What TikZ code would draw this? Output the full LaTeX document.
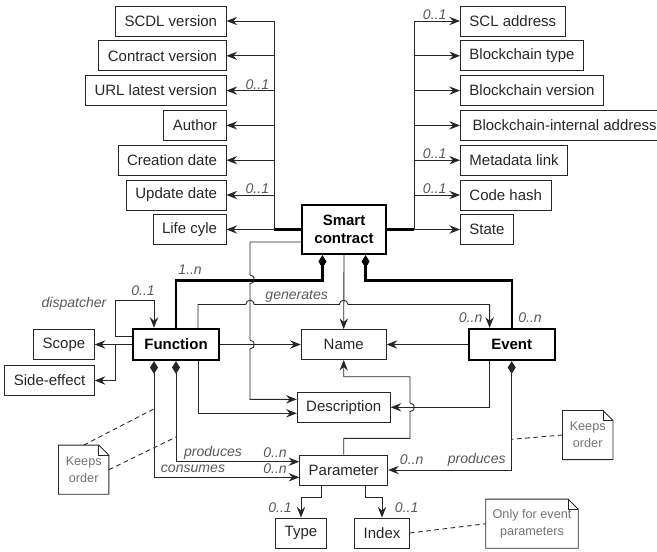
\documentclass[tikz,border=0pt]{standalone}
\usepackage{fontspec}
\setmainfont{Liberation Sans}
\usetikzlibrary{arrows.meta,positioning,calc}

\begin{document}
\begin{tikzpicture}[
    x=0.03cm, y=-0.03cm,
    attr/.style={rectangle, draw=black!85, line width=0.75pt, text=black!85, font=\fontsize{12.8}{15.4}\selectfont, minimum height=0.9cm, inner xsep=0.27cm},
    ent/.style={attr, minimum width=2.55cm},
    main/.style={ent, draw=black, line width=2pt, text=black, font=\fontsize{12.8}{15.4}\selectfont\bfseries, minimum height=0.93cm},
    memo/.style={rectangle, inner sep=0pt, align=center, text=black!55, font=\fontsize{10.8}{14.5}\selectfont, minimum width=1.5cm, minimum height=1.46cm},
    lbl/.style={font=\fontsize{12}{14}\selectfont\itshape, text=black!65, inner sep=1pt},
    ln/.style={draw=black!85, line width=0.75pt},
    arr/.style={ln, -{Stealth[length=0.32cm,width=0.25cm,inset=0.11cm]}},
    comp/.style={ln, {Diamond[length=0.38cm,width=0.24cm]}-{Stealth[length=0.32cm,width=0.25cm,inset=0.11cm]}},
    thk/.style={draw=black, line width=2pt},
    thkcomp/.style={thk, {Diamond[length=0.38cm,width=0.24cm,line width=0.5pt]}-},
    dsh/.style={ln, dash pattern=on 4pt off 3pt}
]
    \useasboundingbox (0,0) rectangle (657,551);

    % smart contract and its attributes
    \node [main, align=center, minimum width=2.52cm, minimum height=1.47cm] (sc) at (344,229.5) {Smart\\contract};

    \node [attr, anchor=east] (scdl)   at (226.5,21)    {SCDL version};
    \node [attr, anchor=east] (cver)   at (226.5,55.8)  {Contract version};
    \node [attr, anchor=east] (url)    at (226.5,90.6)  {URL latest version};
    \node [attr, anchor=east] (author) at (226.5,125.4) {Author};
    \node [attr, anchor=east] (cdate)  at (226.5,160.2) {Creation date};
    \node [attr, anchor=east] (udate)  at (226.5,195)   {Update date};
    \node [attr, anchor=east] (life)   at (226.5,229.5) {Life cyle};

    \node [attr, anchor=west] (scl)   at (460,21)    {SCL address};
    \node [attr, anchor=west] (btype) at (460,55.8)  {Blockchain type};
    \node [attr, anchor=west] (bver)  at (460,90.6)  {Blockchain version};
    \node [attr, anchor=west, minimum width=6.25cm] (baddr) at (460,125.4) {Blockchain-internal address};
    \node [attr, anchor=west] (meta)  at (460,160.2) {Metadata link};
    \node [attr, anchor=west] (hash)  at (460,195)   {Code hash};
    \node [attr, anchor=west] (state) at (460,229.5) {State};

    % function, event and shared parts
    \node [main, minimum width=2.57cm] (fn) at (176,344.5) {Function};
    \node [main, minimum width=2.58cm] (ev) at (511.7,344.5) {Event};
    \node [ent] (name)  at (343.7,344.5) {Name};
    \node [ent] (desc)  at (343.7,407.3) {Description};
    \node [ent] (param) at (343.7,470)   {Parameter};
    \node [attr] (type)  at (301,533) {Type};
    \node [attr] (index) at (382,533) {Index};
    \node [attr, anchor=east] (scope) at (94.7,344.5) {Scope};
    \node [attr, anchor=east] (side)  at (94.7,380.5) {Side-effect};

    % notes
    \node [memo] (kl) at (83.7,469.7) {Keeps\\order};
    \node [memo] (kr) at (587.7,435)  {Keeps\\order};
    \node [memo, minimum width=2.76cm] (oe) at (532,523.7) {Only for event\\parameters};
    \foreach \n in {kl,kr,oe} {
        \draw [ln] (\n.south west) -- (\n.north west) -- ($(\n.north east)+(-10,0)$) -- ($(\n.north east)+(0,10)$) -- (\n.south east) -- cycle;
        \draw [ln] ($(\n.north east)+(-10,0)$) |- ($(\n.north east)+(0,10)$);
    }

    % attribute links
    \coordinate (lj) at (274,229.5);
    \coordinate (rj) at (414,229.5);
    \draw [thk] (sc.west) -- (lj);
    \draw [thk] (sc.east) -- (rj);
    \draw [ln] (lj) -- (lj |- scdl.east);
    \draw [ln] (rj) -- (rj |- scl.west);
    \foreach \n in {scdl,cver,url,author,cdate,udate,life}
        \draw [arr] (lj |- \n.east) -- (\n.east);
    \foreach \n in {scl,btype,bver,baddr,meta,hash,state}
        \draw [arr] (rj |- \n.west) -- (\n.west);
    \foreach \n in {url,udate}
        \node [lbl, above] at ($(lj |- \n.east)!0.35!(\n.east)$) {0..1};
    \foreach \n in {scl,meta,hash}
        \node [lbl, above] at ($(rj |- \n.west)!0.45!(\n.west)$) {0..1};

    % compositions
    \draw [thkcomp] ($(sc.south west)!0.25!(sc.south east)$) -- ++(0,25.3) -| (fn.north);
    \draw [thkcomp] ($(sc.south west)!0.75!(sc.south east)$) -- ++(0,25.3) -| (ev.north);
    \node [lbl] at (190,270) {1..n};
    \node [lbl] at (530,318) {0..n};

    % smart contract to name and description
    \draw [arr] (sc.south) -- (name.north);
    \draw [arr] (sc.west |- 0,242) -- (250,242) -- (250,275)
        .. controls (255.7,275) and (255.7,283.6) .. (250,283.6) -- (250,340.2)
        .. controls (255.7,340.2) and (255.7,348.8) .. (250,348.8) -- (250,399.3) -- (desc.west |- 0,399.3);

    % generates
    \draw [arr] ($(fn.north west)!0.75!(fn.north east)$) |- (245.7,304.5)
        .. controls (245.7,298.8) and (254.3,298.8) .. (254.3,304.5) -- (339.4,304.5)
        .. controls (339.4,298.8) and (348,298.8) .. (348,304.5) -| ($(ev.north west)!0.25!(ev.north east)$);
    \node [lbl] at (296.7,296.5) {generates};
    \node [lbl] at (470.7,318) {0..n};

    % dispatcher
    \draw [arr] (fn.west |- 0,336.7) -- (115,336.7) -- (115,300.7) -| ($(fn.north west)!0.25!(fn.north east)$);
    \node [lbl] at (74,304) {dispatcher};
    \node [lbl] at (143,291) {0..1};

    % function parts
    \coordinate (fj) at (115,344.5);
    \draw [arr] (fn.west) -- (scope.east);
    \draw [arr] (fj) |- (side.east);
    \draw [arr] (fn.east) -- (name.west);
    \draw [arr] ($(fn.south west)!0.75!(fn.south east)$) |- (desc.west |- 0,413.3);

    % event parts
    \draw [arr] (ev.west) -- (name.east);
    \draw [arr] ($(ev.south west)!0.25!(ev.south east)$) |- (desc.east);

    % parameter
    \draw [arr] (param.north) -- (param.north |- 0,438.3) -- (410,438.3) -- (410,411.6)
        .. controls (415.7,411.6) and (415.7,403) .. (410,403) -- (410,376.7) -| (name.south);
    \draw [comp] ($(fn.south west)!0.25!(fn.south east)$) |- (param.west |- 0,477.3);
    \draw [comp] (fn.south) |- (param.west |- 0,461.7);
    \draw [comp] (ev.south) |- (param.east);
    \node [lbl] at (213,453)   {produces};
    \node [lbl] at (275,453)   {0..n};
    \node [lbl] at (193,469)   {consumes};
    \node [lbl] at (275,469)   {0..n};
    \node [lbl] at (411.7,460) {0..n};
    \node [lbl] at (476.7,460) {produces};

    \draw [arr] ($(param.south west)!0.25!(param.south east)$) -- ++(0,11.7) -| (type.north);
    \draw [arr] ($(param.south west)!0.75!(param.south east)$) -- ++(0,11.7) -| (index.north);
    \node [lbl] at (280,508)   {0..1};
    \node [lbl] at (406.7,508) {0..1};

    % note links
    \coordinate (kla) at (155,408.3);
    \coordinate (klb) at (176,437);
    \coordinate (kra) at (511.7,439.3);
    \draw [dsh] (kl.north) -- (kla);
    \draw [dsh] (kl.east) -- (klb);
    \draw [dsh] (kr.west) -- (kra);
    \draw [dsh] (index.east) -- (oe.west);
\end{tikzpicture}
\end{document}
